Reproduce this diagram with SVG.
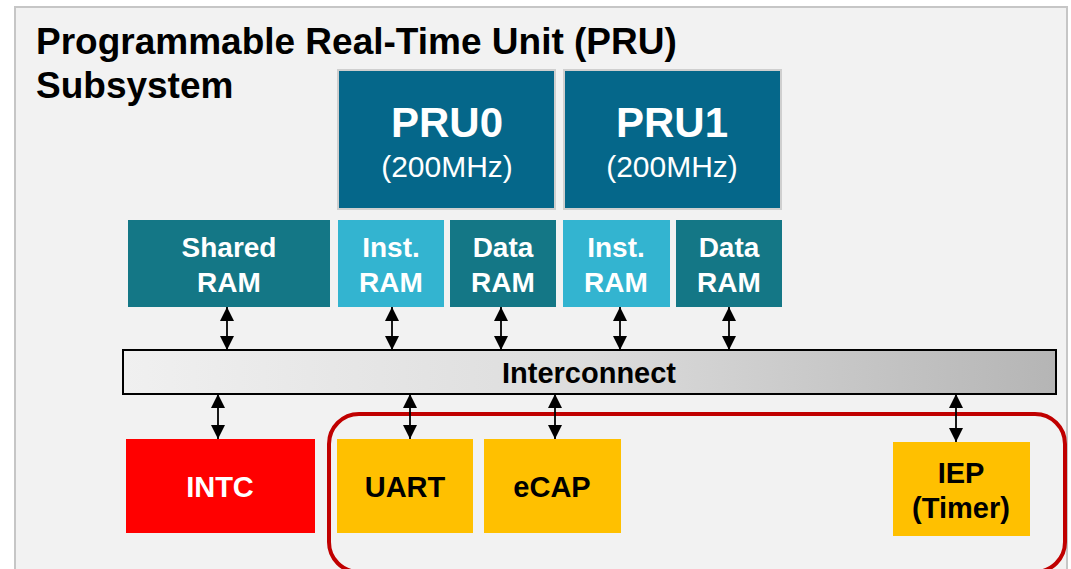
<svg xmlns="http://www.w3.org/2000/svg" width="1071" height="569" viewBox="0 0 1071 569">
<defs>
<linearGradient id="ic" x1="0" y1="0" x2="1" y2="0">
<stop offset="0" stop-color="#f0f0f0"/>
<stop offset="0.5" stop-color="#dcdcdc"/>
<stop offset="1" stop-color="#b5b5b5"/>
</linearGradient>
<marker id="ah" viewBox="0 0 14 14" refX="14" refY="7" markerWidth="14" markerHeight="14" markerUnits="userSpaceOnUse" orient="auto-start-reverse">
<path d="M0,0 L14,7 L0,14 Z" fill="#000"/>
</marker>
<style>
text{font-family:"Liberation Sans",Arial,sans-serif;font-weight:bold;text-anchor:middle}
.w{fill:#fff}
.k{fill:#000}
.pru{fill:#05678a;stroke:#cfcfcf;stroke-width:2}
.dk{fill:#147786}
.lt{fill:#33b4d0}
.yl{fill:#ffc000}
.ram{font-size:28px}
.blk{font-size:29px}
.conn line{stroke:#000;stroke-width:1.8;marker-start:url(#ah);marker-end:url(#ah)}
</style>
</defs>
<rect x="0" y="0" width="1071" height="569" fill="#fff"/>
<rect x="15" y="7" width="1052" height="580" fill="#f2f2f2" stroke="#c6c6c6" stroke-width="2"/>
<g id="title">
<text x="36" y="54" style="text-anchor:start;font-size:37px" class="k">Programmable Real-Time Unit (PRU)</text>
<text x="36" y="98" style="text-anchor:start;font-size:37px" class="k">Subsystem</text>
</g>
<g id="pru0">
<rect class="pru" x="338" y="70" width="217" height="139"/>
<text x="447" y="137" class="w" style="font-size:42px">PRU0</text>
<text x="447" y="177" class="w" style="font-size:30px;font-weight:normal">(200MHz)</text>
</g>
<g id="pru1">
<rect class="pru" x="564" y="70" width="217" height="139"/>
<text x="672" y="137" class="w" style="font-size:42px">PRU1</text>
<text x="672" y="177" class="w" style="font-size:30px;font-weight:normal">(200MHz)</text>
</g>
<g id="shared-ram">
<rect class="dk" x="128" y="220" width="202" height="87"/>
<text x="229" y="257" class="w ram">Shared</text>
<text x="229" y="292" class="w ram">RAM</text>
</g>
<g id="inst-ram0">
<rect class="lt" x="338" y="220" width="106" height="87"/>
<text x="391" y="257" class="w ram">Inst.</text>
<text x="391" y="292" class="w ram">RAM</text>
</g>
<g id="data-ram0">
<rect class="dk" x="450" y="220" width="106" height="87"/>
<text x="503" y="257" class="w ram">Data</text>
<text x="503" y="292" class="w ram">RAM</text>
</g>
<g id="inst-ram1">
<rect class="lt" x="563" y="220" width="107" height="87"/>
<text x="616" y="257" class="w ram">Inst.</text>
<text x="616" y="292" class="w ram">RAM</text>
</g>
<g id="data-ram1">
<rect class="dk" x="676" y="220" width="106" height="87"/>
<text x="729" y="257" class="w ram">Data</text>
<text x="729" y="292" class="w ram">RAM</text>
</g>
<g id="interconnect">
<rect x="123" y="350" width="933" height="44" fill="url(#ic)" stroke="#000" stroke-width="2"/>
<text x="589" y="383" class="k blk">Interconnect</text>
</g>
<g id="intc">
<rect x="126" y="439" width="189" height="94" fill="#ff0000"/>
<text x="220" y="497" class="w blk">INTC</text>
</g>
<g id="peripherals">
<rect x="329" y="414" width="736" height="158" rx="30" ry="30" fill="none" stroke="#c00000" stroke-width="4"/>
</g>
<g id="uart">
<rect class="yl" x="337" y="439" width="136" height="94"/>
<text x="405" y="497" class="k blk">UART</text>
</g>
<g id="ecap">
<rect class="yl" x="484" y="439" width="137" height="94"/>
<text x="552" y="497" class="k blk">eCAP</text>
</g>
<g id="iep">
<rect class="yl" x="893" y="442" width="137" height="94"/>
<text x="961" y="483" class="k blk">IEP</text>
<text x="961" y="518" class="k blk">(Timer)</text>
</g>
<g class="conn" id="connectors">
<line x1="227" y1="307" x2="227" y2="350"/>
<line x1="392" y1="307" x2="392" y2="350"/>
<line x1="501" y1="307" x2="501" y2="350"/>
<line x1="620" y1="307" x2="620" y2="350"/>
<line x1="729" y1="307" x2="729" y2="350"/>
<line x1="218" y1="394" x2="218" y2="439"/>
<line x1="410" y1="394" x2="410" y2="439"/>
<line x1="555" y1="394" x2="555" y2="439"/>
<line x1="956" y1="394" x2="956" y2="442"/>
</g>
</svg>
